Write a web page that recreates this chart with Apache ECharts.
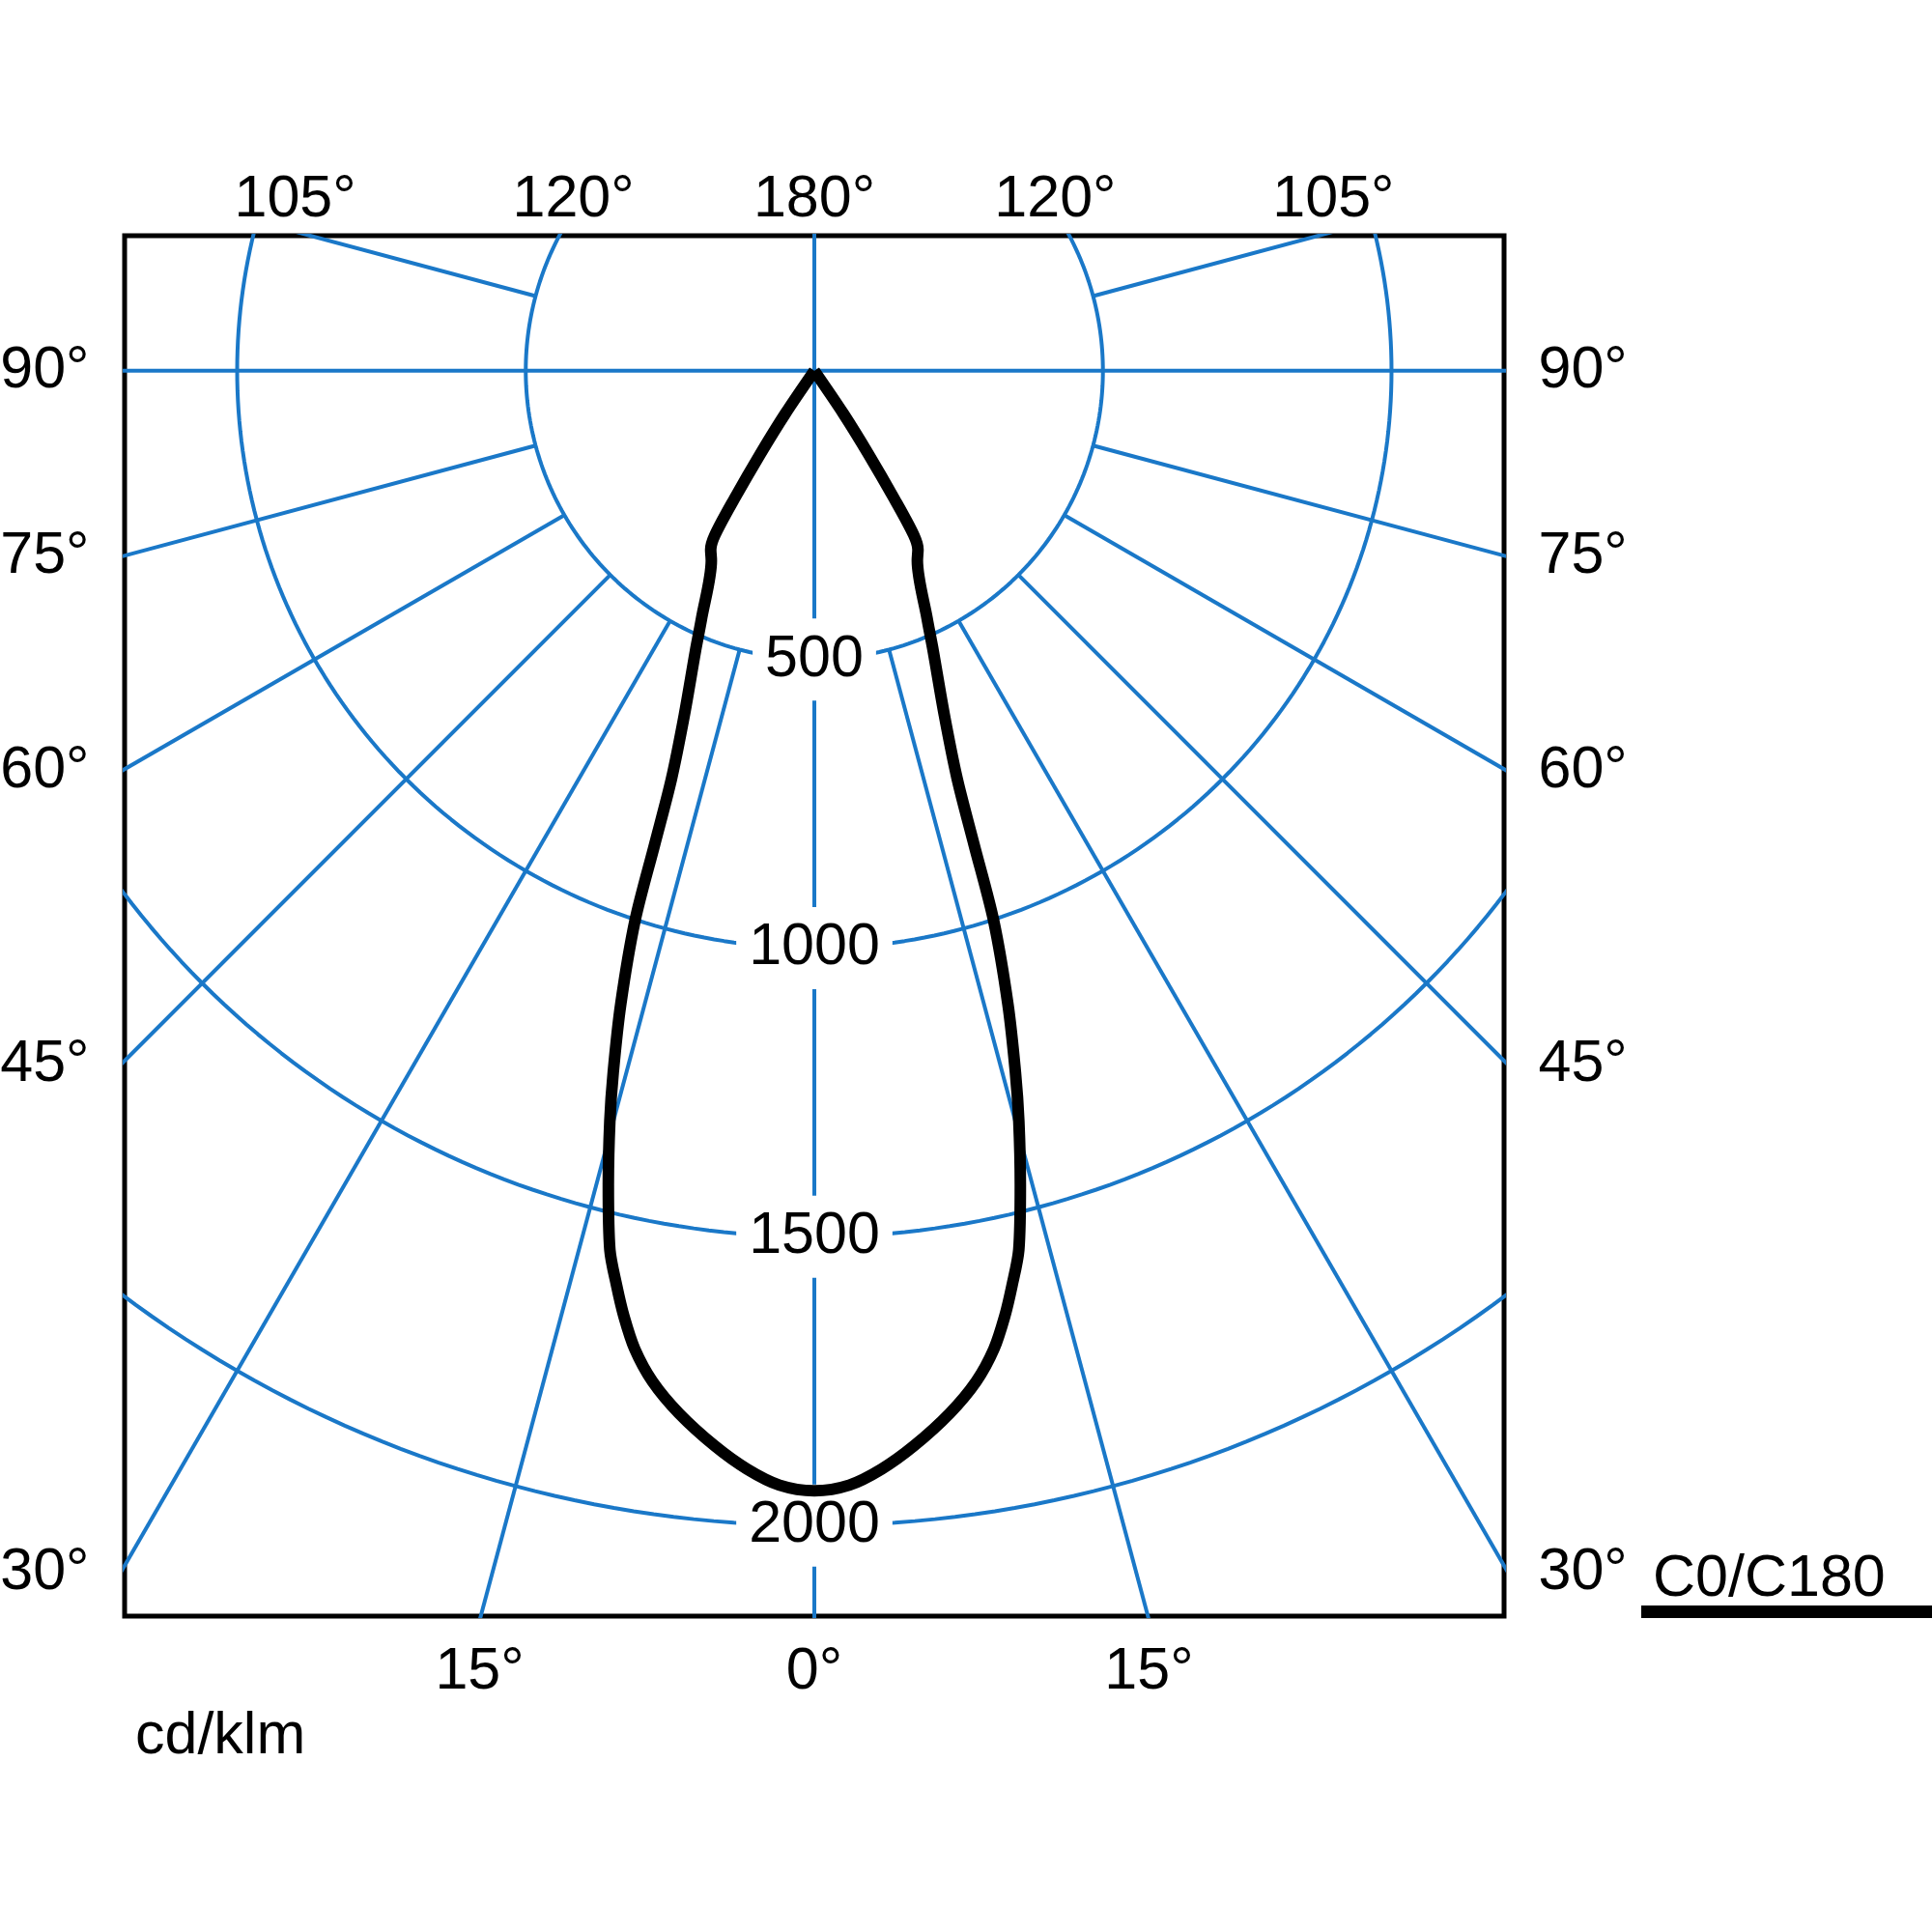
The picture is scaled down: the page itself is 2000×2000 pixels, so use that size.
<!DOCTYPE html>
<html>
<head>
<meta charset="utf-8">
<script src="https://cdn.jsdelivr.net/npm/echarts@6/dist/echarts.min.js"></script>
<style>
html,body{margin:0;padding:0;background:#fff}
#chart{width:2000px;height:2000px}
</style>
</head>
<body>
<div id="chart"></div>
<script>
// ---- data (cd/klm), angles gamma in degrees measured from nadir ----
const gammaDeg = [0, 1.8, 3.5, 5.3, 7.4, 9.1, 10.4, 11.4, 12.2, 13.1, 14.2, 15.25, 16.0, 17.0, 18.07, 18.64, 19.3, 20.7, 23.0, 24.5, 28.5, 30.1, 31.2, 32.0, 33.0, 34.15, 35];
const intensityC0   = [1940, 1931, 1906, 1870, 1821, 1773, 1723, 1670, 1621, 1563, 1455, 1347, 1264, 1147, 1001, 865, 749, 637, 527, 471, 374, 358, 332, 262, 173, 89, 0];
const intensityC180 = [1940, 1931, 1906, 1870, 1821, 1773, 1723, 1670, 1621, 1563, 1455, 1347, 1264, 1147, 1001, 865, 749, 637, 527, 471, 374, 358, 332, 262, 173, 89, 0];
const circleValues = [500, 1000, 1500, 2000];
const radialAngles = [15, 30, 45, 60, 75, 105, 120];
const bottomTickAngles = [-15, 0, 15];
const sideTickAngles = [30, 45, 60, 75, 90];
const topTickAngles = [-105, -120, 180, 120, 105];
const unitLabel = 'cd/klm';
const seriesName = 'C0/C180';

// ---- view extent in cd/klm (axis ranges) ----
const X_HALF = 1195, Y_TOP = 234, Y_BOTTOM = -2157;
const BLUE = '#1a78c8';
const FONT = 'Liberation Sans';
const FS = 61;

function pt(angleDeg, r) {
  const a = angleDeg * Math.PI / 180;
  return [r * Math.sin(a), -r * Math.cos(a)];
}

const series = [];
const gridLine = {color: BLUE, width: 4};

// circles
circleValues.forEach(r => {
  const d = [];
  for (let a = 0; a <= 360; a += 1) d.push(pt(a, r));
  series.push({type: 'line', data: d, symbol: 'none', silent: true, clip: true, z: 1, lineStyle: gridLine});
});
// radial lines starting at the first circle
radialAngles.forEach(a => {
  [-a, a].forEach(s => {
    series.push({type: 'line', data: [pt(s, circleValues[0]), pt(s, 4000)], symbol: 'none', silent: true, clip: true, z: 1, lineStyle: gridLine});
  });
});
// full axes through the centre
series.push({type: 'line', data: [pt(90, -4000), pt(90, 4000)], symbol: 'none', silent: true, clip: true, z: 1, lineStyle: gridLine});
series.push({type: 'line', data: [pt(0, -4000), pt(0, 4000)], symbol: 'none', silent: true, clip: true, z: 1, lineStyle: gridLine});

// circle value labels
series.push({type: 'scatter', data: circleValues.map(r => [0, -r, r]), symbolSize: 1, silent: true, z: 5,
  itemStyle: {color: 'rgba(0,0,0,0)', opacity: 1},
  label: {show: true, position: 'inside', formatter: p => String(p.data[2]), color: '#000', fontFamily: FONT, fontSize: FS,
    backgroundColor: '#fff', padding: [12, 13]}});

// intensity curve (C180 on the left, C0 on the right)
const curve = [];
for (let i = gammaDeg.length - 1; i >= 0; i--) curve.push(pt(-gammaDeg[i], intensityC180[i]));
for (let i = 1; i < gammaDeg.length; i++) curve.push(pt(gammaDeg[i], intensityC0[i]));
series.push({type: 'line', name: seriesName, data: curve, symbol: 'none', silent: true, clip: true, z: 10, smooth: 0.3,
  lineStyle: {color: '#000', width: 12, join: 'miter', cap: 'butt'}});

// angle labels around the frame
const EDGE = 7; // outer edge of the frame, cd
const lblBase = {show: true, color: '#000', fontFamily: FONT, fontSize: FS};
const bottomData = bottomTickAngles.map(a => [(-Y_BOTTOM + EDGE) * Math.tan(a * Math.PI / 180), Y_BOTTOM - 97, Math.abs(a) + '°']);
const topData = topTickAngles.map(a => {
  if (Math.abs(a) === 180) return [0, Y_TOP + 62, '180°'];
  const s = Math.sign(a);
  const x = s * (Y_TOP + EDGE) * Math.tan((180 - Math.abs(a)) * Math.PI / 180);
  return [x, Y_TOP + 62, Math.abs(a) + '°'];
});
const leftData = sideTickAngles.map(a => [-X_HALF, a === 90 ? 0 : -(X_HALF + EDGE) / Math.tan(a * Math.PI / 180), a + '°']);
const rightData = sideTickAngles.map(a => [X_HALF, a === 90 ? 0 : -(X_HALF + EDGE) / Math.tan(a * Math.PI / 180), a + '°']);
function labelSeries(data, position, distance) {
  return {type: 'scatter', data, symbolSize: 1, silent: true, clip: false, z: 6,
    itemStyle: {color: 'rgba(0,0,0,0)', opacity: 1},
    label: Object.assign({}, lblBase, {position, distance, formatter: p => p.data[2]})};
}
series.push(labelSeries(bottomData, 'inside', 0));
series.push(labelSeries(topData, 'inside', 0));
series.push(labelSeries(leftData, 'left', 36));
series.push(labelSeries(rightData, 'right', 35));

const chart = echarts.init(document.getElementById('chart'), null, {renderer: 'canvas'});
chart.setOption({
  animation: false,
  backgroundColor: '#fff',
  grid: {left: 129, top: 244, width: 1428, height: 1429, show: true, borderColor: '#000', borderWidth: 5, backgroundColor: 'transparent'},
  xAxis: {type: 'value', min: -X_HALF, max: X_HALF, show: false},
  yAxis: {type: 'value', min: Y_BOTTOM, max: Y_TOP, show: false},
  series,
  graphic: [
    {type: 'text', left: 140, top: 1768, style: {text: unitLabel, font: FS + 'px "' + FONT + '"', fill: '#000'}},
    {type: 'text', left: 1711, top: 1605, style: {text: seriesName, font: FS + 'px "' + FONT + '"', fill: '#000'}},
    {type: 'rect', shape: {x: 1699, y: 1662, width: 301, height: 13}, style: {fill: '#000'}}
  ]
});
</script>
</body>
</html>
